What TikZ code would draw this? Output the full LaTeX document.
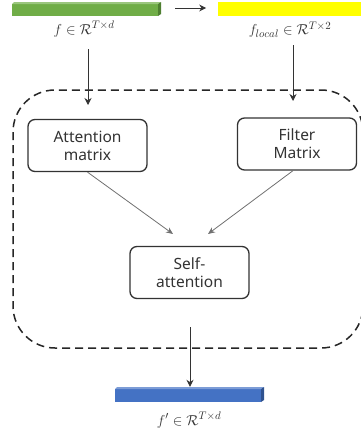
\documentclass[tikz,border=0pt]{standalone}
\usepackage{fontspec}
\setsansfont{Noto Sans}
\usetikzlibrary{arrows.meta,calc}
\definecolor{barG}{HTML}{70AD47}
\definecolor{barGd}{HTML}{4E7F31}
\definecolor{barB}{HTML}{4472C4}
\definecolor{barBd}{HTML}{2F528F}
\definecolor{barY}{HTML}{FFFF00}
\definecolor{txt}{HTML}{333333}
\definecolor{conn}{HTML}{707070}
\tikzset{
  procbox/.style={draw=txt, line width=1.3pt, rounded corners=7pt, align=center,
    minimum width=119pt, minimum height=52pt, inner sep=0pt,
    font=\sffamily\fontsize{15.5}{18}\selectfont, text=txt},
  lbl/.style={font=\fontsize{15}{17}\selectfont, text=txt, inner sep=0pt},
  conarrow/.style={draw=conn, line width=0.8pt, -{Stealth[length=7pt,width=6pt]}},
  blkarrow/.style={draw=black!80, line width=0.9pt, -{Stealth[length=7pt,width=7pt]}},
  border/.style={draw=black!85, line width=1.5pt, dash pattern=on 8pt off 5pt, rounded corners=42pt}
}
\begin{document}
\begin{tikzpicture}[x=1pt,y=-1pt]
\useasboundingbox (0,0) rectangle (360,439);
% bars
\fill[barG] (12,4) rectangle (158,16);
\fill[barG!70!white] (12,4) -- (14,2) -- (161,2) -- (158,4) -- cycle;
\fill[barGd] (158,4) -- (161,2) -- (161,14) -- (158,16) -- cycle;
\node[minimum width=148pt, minimum height=14pt, inner sep=0pt] (green) at (86,9) {};
\fill[barY] (218,2) rectangle (362,16);
\node[minimum width=144pt, minimum height=14pt, inner sep=0pt] (yellow) at (290,9) {};
\fill[barB] (115,389) rectangle (261,402);
\fill[barB!70!white] (115,389) -- (117,387) -- (264,387) -- (261,389) -- cycle;
\fill[barBd] (261,389) -- (264,387) -- (264,400) -- (261,402) -- cycle;
\node[minimum width=149pt, minimum height=15pt, inner sep=0pt] (blue) at (189.5,394.5) {};
% labels
\node[lbl] (fin) at (84,29) {$f \in \mathcal{R}^{T\times d}$};
\node[lbl] (floc) at (290,30) {$f_{local} \in \mathcal{R}^{T\times 2}$};
\node[lbl] (fout) at (189,420) {$f' \in \mathcal{R}^{T\times d}$};
% dashed border
\draw[border] (13,90) rectangle (363,348);
% boxes
\node[procbox] (att) at (87.5,145.5) {Attention\\matrix};
\node[procbox] (fil) at (297,144) {Filter\\Matrix};
\node[procbox] (self) at (189.5,272.5) {Self-\\attention};
% connectors
\draw[blkarrow] (green.east) ++(15,-1) coordinate (gA) (gA) -- ++(31,0) coordinate (gB);
\coordinate (a1) at (88,49);
\coordinate (a2) at (88,105);
\draw[blkarrow] (a1) -- (a2);
\coordinate (b1) at (293,45);
\coordinate (b2) at (293,101);
\draw[blkarrow] (b1) -- (b2);
\coordinate (t1) at (173,234);
\coordinate (t2) at (208,234);
\draw[conarrow] (att.south) -- (t1);
\draw[conarrow] ([xshift=-4pt]fil.south) -- (t2);
\coordinate (s1) at (190,327);
\draw[blkarrow] (s1) -- (blue.north -| s1);
\end{tikzpicture}
\end{document}
